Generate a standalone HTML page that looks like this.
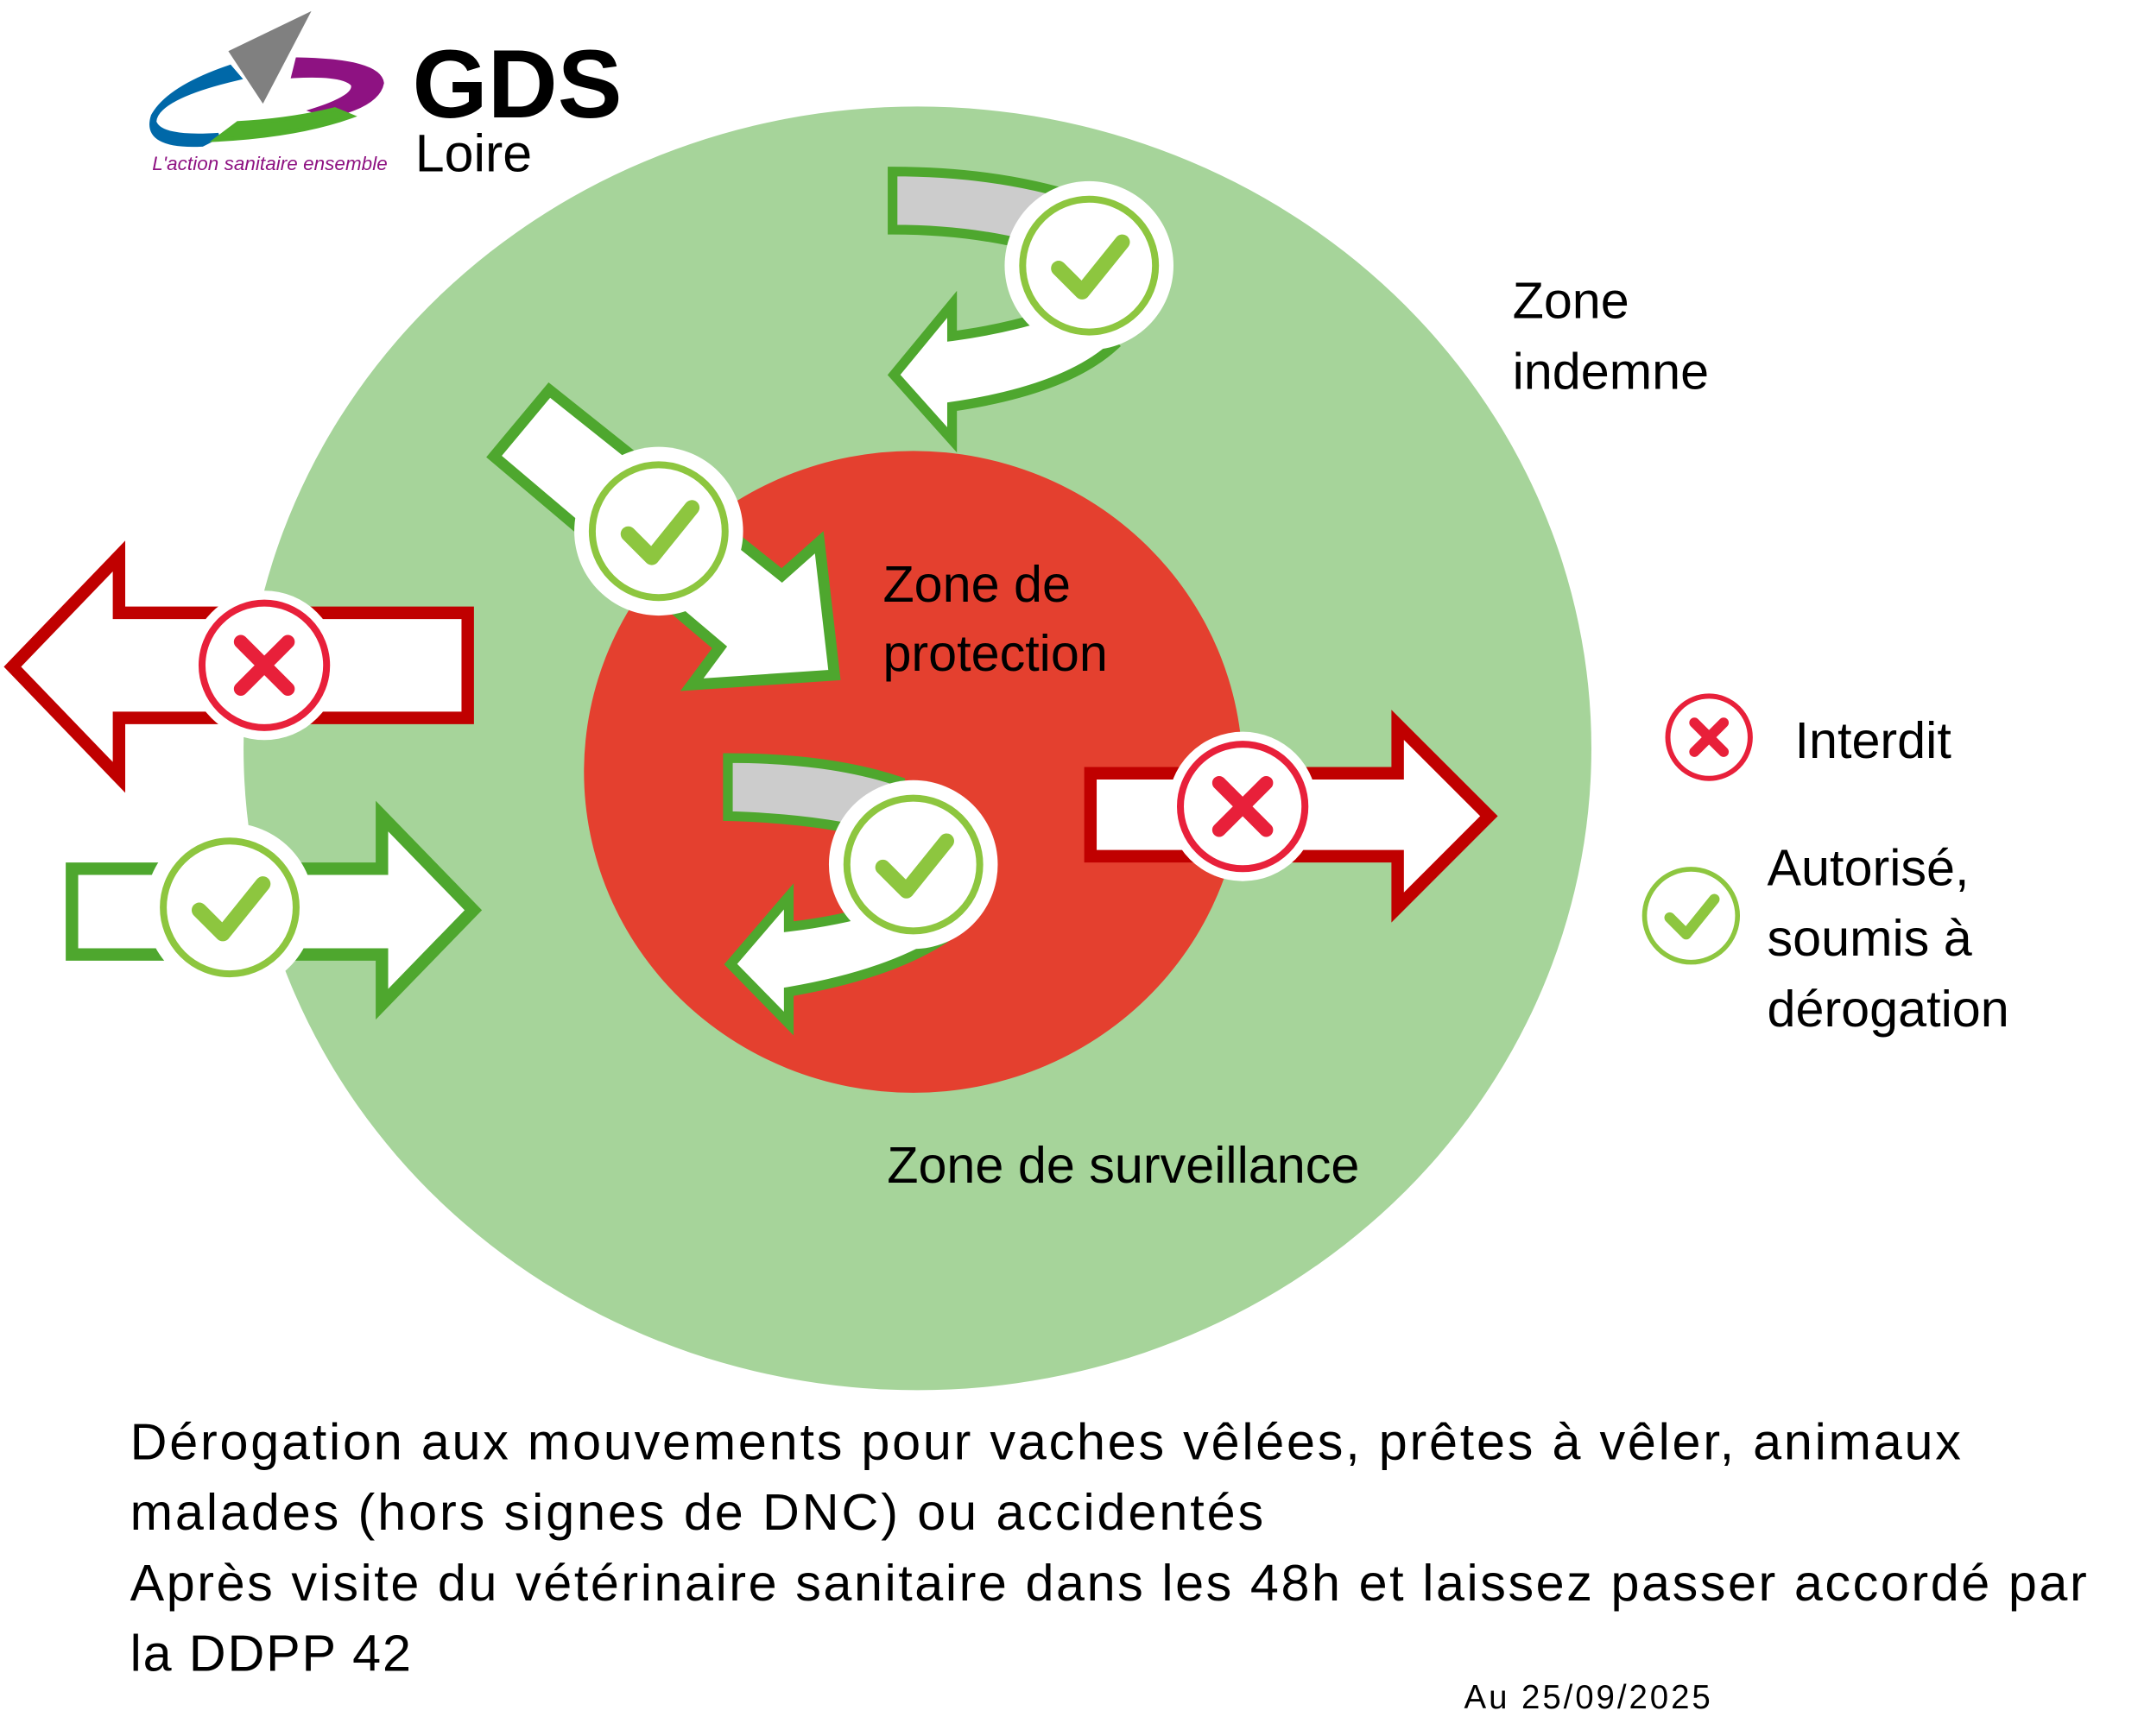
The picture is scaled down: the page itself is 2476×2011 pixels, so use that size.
<!DOCTYPE html>
<html><head><meta charset="utf-8"><style>
html,body{margin:0;padding:0;background:#fff}
svg{display:block}
text{font-family:"Liberation Sans","DejaVu Sans",sans-serif}
</style></head><body>
<svg width="2476" height="2011" viewBox="0 0 1545 1255" preserveAspectRatio="none" xmlns="http://www.w3.org/2000/svg">
<defs>
<g id="chk">
<circle r="61" fill="#fff"/>
<circle r="48" fill="#fff" stroke="#8dc63f" stroke-width="5"/>
<path d="M-22,2 L-5,19 L24,-17" fill="none" stroke="#8dc63f" stroke-width="11" stroke-linecap="round" stroke-linejoin="round"/>
</g>
<g id="crs">
<circle r="54" fill="#fff"/>
<circle r="45" fill="#fff" stroke="#e8203a" stroke-width="5"/>
<path d="M-17,-17 L17,17 M17,-17 L-17,17" stroke="#e8203a" stroke-width="10" stroke-linecap="round"/>
</g>
</defs>
<!-- logo -->
<path d="M172,56 Q112,70 111,88 Q115,101 158,98 L146,104 Q104,106 111,84 Q122,64 166,49 Z" fill="#0068a8" stroke="#0068a8" stroke-width="4"/>
<path d="M215,43 Q274,44 276,60 Q273,76 237,84 L226,80 Q258,70 255,61 Q248,53 212,55 Z" fill="#8e1282" stroke="#8e1282" stroke-width="3"/>
<path d="M156,101 L172,89 Q210,87 242,79 L254,84 Q215,98 156,101 Z" fill="#4fae2b" stroke="#4fae2b" stroke-width="3"/>
<path d="M165,37 L225,8 L190,75 Z" fill="#808080"/>
<text x="298" y="85" font-size="70" font-weight="bold" fill="#000">GDS</text>
<text x="300" y="124" font-size="38" fill="#000" style="font-family:'Liberation Sans Narrow','Liberation Sans',sans-serif">Loire</text>
<text x="110" y="123" font-size="14" font-style="italic" fill="#8e1282" textLength="170">L'action sanitaire ensemble</text>
<!-- circles -->
<ellipse cx="663" cy="541" rx="487" ry="464" fill="#a6d49a"/>
<ellipse cx="660" cy="558" rx="238" ry="232" fill="#e4402f"/>
<!-- left red arrow -->
<polygon points="338,443 338,519 86,519 86,562 9,482 86,402 86,443" fill="#fff" stroke="#c00000" stroke-width="9"/>
<use href="#crs" x="191" y="481"/>
<!-- left green arrow -->
<polygon points="52,628 52,690 276,690 276,726 342,658 276,590 276,628" fill="#fff" stroke="#4ea72e" stroke-width="9"/>
<use href="#chk" x="166" y="656"/>
<!-- right red arrow -->
<polygon points="788,559 788,619 1010,619 1010,656 1076,590 1010,524 1010,559" fill="#fff" stroke="#c00000" stroke-width="9"/>
<use href="#crs" x="898" y="583"/>
<!-- diagonal arrow -->
<polygon points="397,282 565,416 592,392 603,488 500,495 520,468 357,330" fill="#fff" stroke="#4ea72e" stroke-width="8"/>
<use href="#chk" x="476" y="384"/>
<!-- top curved -->
<path d="M645,124 Q720,124 780,143 L768,185 Q715,166 645,166 Z" fill="#cccccc" stroke="#4ea72e" stroke-width="7"/>
<path d="M646,271 L688,220 L688,243 Q740,236 778,220 L805,250 Q770,282 688,294 L688,318 Z" fill="#fff" stroke="#4ea72e" stroke-width="7"/>
<use href="#chk" x="787" y="192"/>
<!-- inner curved -->
<path d="M526,548 Q600,548 650,565 L640,605 Q595,592 526,590 Z" fill="#cccccc" stroke="#4ea72e" stroke-width="7"/>
<path d="M528,697 L570,648 L570,670 Q620,664 655,650 L680,680 Q640,705 570,717 L570,740 Z" fill="#fff" stroke="#4ea72e" stroke-width="7"/>
<use href="#chk" x="660" y="625"/>
<!-- labels -->
<g font-size="37" fill="#000">
<text x="1093" y="230">Zone</text>
<text x="1093" y="281">indemne</text>
<text x="638" y="435">Zone de</text>
<text x="638" y="485">protection</text>
<text x="641" y="855">Zone de surveillance</text>
<text x="1297" y="548">Interdit</text>
<text x="1277" y="640">Autorisé,</text>
<text x="1277" y="691">soumis à</text>
<text x="1277" y="742">dérogation</text>
</g>
<g transform="translate(1235,533) scale(0.62)"><circle r="48" fill="#fff" stroke="#e8203a" stroke-width="6"/><path d="M-17,-17 L17,17 M17,-17 L-17,17" stroke="#e8203a" stroke-width="12" stroke-linecap="round"/></g>
<g transform="translate(1222,662) scale(0.7)"><circle r="48" fill="#fff" stroke="#8dc63f" stroke-width="5"/><path d="M-22,2 L-5,19 L24,-17" fill="none" stroke="#8dc63f" stroke-width="11" stroke-linecap="round" stroke-linejoin="round"/></g>
<g font-size="37" fill="#000">
<text x="94" y="1055" textLength="1323">Dérogation aux mouvements pour vaches vêlées, prêtes à vêler, animaux</text>
<text x="94" y="1106" textLength="819">malades (hors signes de DNC) ou accidentés</text>
<text x="94" y="1157" textLength="1414">Après visite du vétérinaire sanitaire dans les 48h et laissez passer accordé par</text>
<text x="94" y="1208" textLength="203">la DDPP 42</text>
</g>
<text x="1058" y="1235" font-size="24" fill="#000" textLength="178">Au 25/09/2025</text>
</svg>
</body></html>
